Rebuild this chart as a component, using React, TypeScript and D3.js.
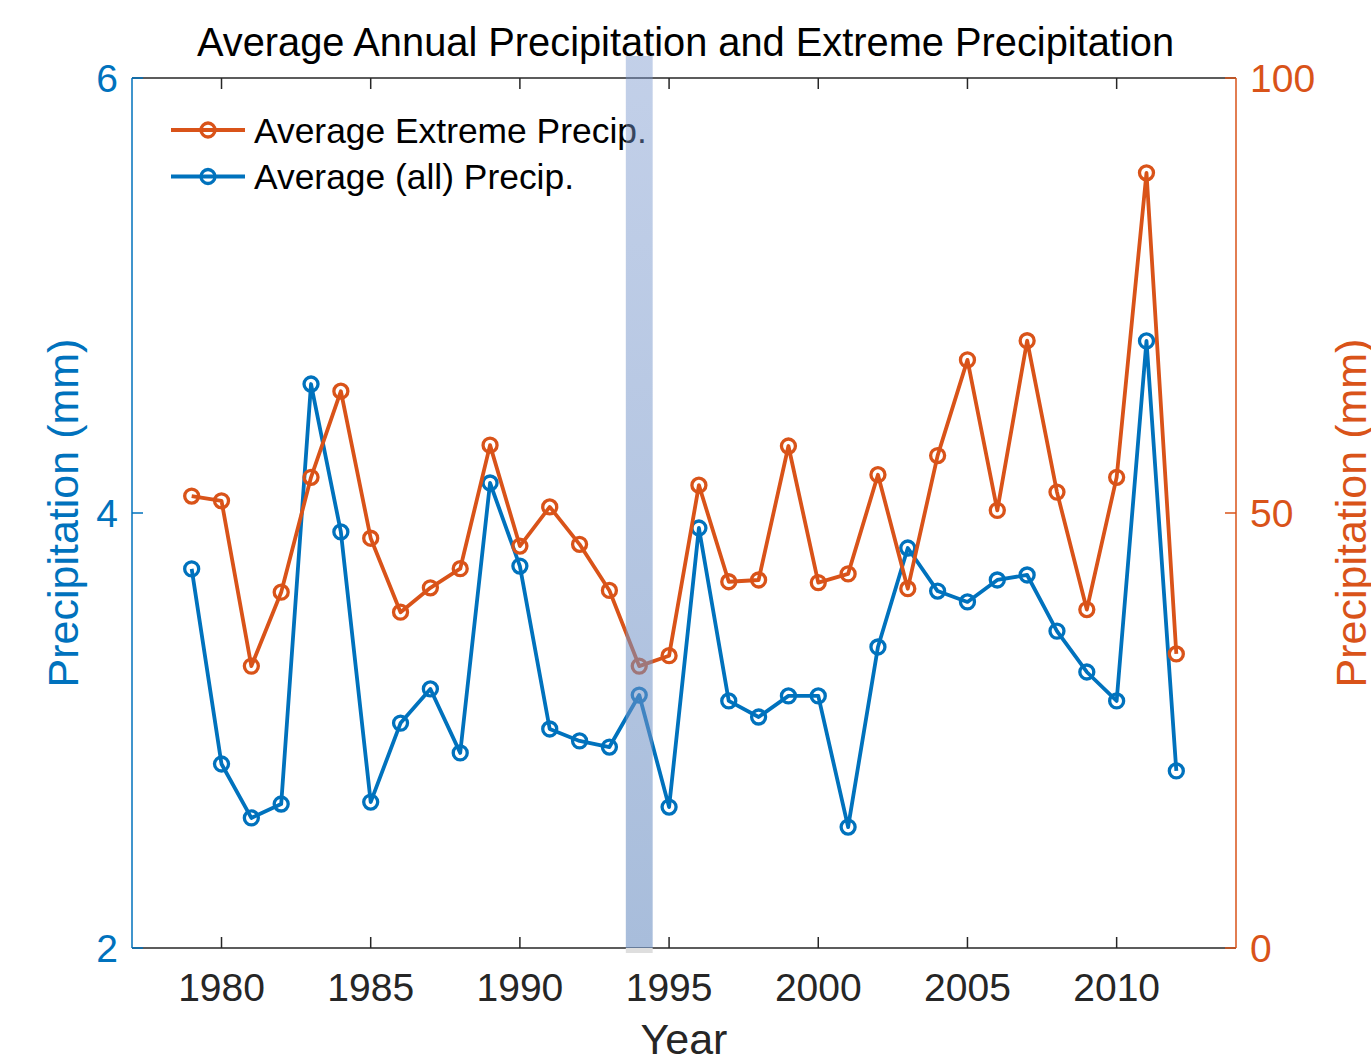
import React from "react";
import * as d3 from "d3";

const years: number[] = d3.range(1979, 2013);
const avgAll: number[] = [
  3.743, 2.846, 2.598, 2.662, 4.593, 3.913, 2.671, 3.034, 3.191, 2.897,
  4.138, 3.756, 3.007, 2.952, 2.924, 3.163, 2.648, 3.931, 3.136, 3.062,
  3.159, 3.159, 2.556, 3.384, 3.839, 3.641, 3.591, 3.692, 3.715, 3.457,
  3.269, 3.136, 4.791, 2.814,
];
const avgExtreme: number[] = [
  51.95, 51.4, 32.4, 40.9, 54.1, 64.0, 47.1, 38.6, 41.4, 43.6,
  57.8, 46.2, 50.7, 46.4, 41.1, 32.4, 33.6, 53.2, 42.1, 42.3,
  57.7, 42.0, 43.0, 54.4, 41.3, 56.6, 67.6, 50.3, 69.8, 52.4,
  38.9, 54.1, 89.1, 33.8,
];
const xTicks: number[] = [1980, 1985, 1990, 1995, 2000, 2005, 2010];
const yLeftTicks: number[] = [2, 4, 6];
const yRightTicks: number[] = [0, 50, 100];
const highlightYear = 1994;
const legendLabels: string[] = ["Average Extreme Precip.", "Average (all) Precip."];

const BLUE = "#0072BD";
const ORANGE = "#D95319";
const AX = "#262626";
const FONT = "'Liberation Sans', Arial, Helvetica, sans-serif";

export default function App() {
  const L = 132, R = 1236, T = 78, B = 948;
  const x = d3.scaleLinear().domain([1977, 2014]).range([L, R]);
  const yL = d3.scaleLinear().domain([2, 6]).range([B, T]);
  const yR = d3.scaleLinear().domain([0, 100]).range([B, T]);
  const tickLen = 11;
  const LW = 3.8;
  const MW = 3.3;
  const MR = 7;

  const lineL = d3.line<number>().x((_, i) => x(years[i])).y((d) => yL(d));
  const lineR = d3.line<number>().x((_, i) => x(years[i])).y((d) => yR(d));

  const bandX0 = x(highlightYear - 0.45);
  const bandX1 = x(highlightYear + 0.45);

  return (
    <svg
      width={1371}
      height={1060}
      style={{ position: "absolute", left: 0, top: 0, background: "#fff" }}
      fontFamily={FONT}
    >
      <defs>
        <linearGradient id="bandGrad" x1="0" y1="0" x2="0" y2="1">
          <stop offset="0" stopColor="rgb(120,150,205)" stopOpacity={0.45} />
          <stop offset="1" stopColor="rgb(110,145,195)" stopOpacity={0.6} />
        </linearGradient>
      </defs>
      <rect x={0} y={0} width={1371} height={1060} fill="#fff" />

      {/* title */}
      <text x={(L + R) / 2 + 1.5} y={56} textAnchor="middle" fontSize={39.8} fill="#000">
        Average Annual Precipitation and Extreme Precipitation
      </text>

      {/* axes box */}
      <line x1={L} x2={R} y1={B} y2={B} stroke={AX} strokeWidth={1.5} />
      <line x1={L} x2={R} y1={T} y2={T} stroke={AX} strokeWidth={1.5} />
      {xTicks.map((t) => (
        <g key={t}>
          <line x1={x(t)} x2={x(t)} y1={B} y2={B - tickLen} stroke={AX} strokeWidth={1.5} />
          <line x1={x(t)} x2={x(t)} y1={T} y2={T + tickLen} stroke={AX} strokeWidth={1.5} />
          <text x={x(t)} y={1001} textAnchor="middle" fontSize={39} fill={AX}>
            {t}
          </text>
        </g>
      ))}
      <text x={(L + R) / 2} y={1054} textAnchor="middle" fontSize={43} fill={AX}>
        Year
      </text>

      {/* left axis */}
      <line x1={L} x2={L} y1={T} y2={B} stroke={BLUE} strokeWidth={1.5} />
      {yLeftTicks.map((t) => (
        <g key={t}>
          <line x1={L} x2={L + tickLen} y1={yL(t)} y2={yL(t)} stroke={BLUE} strokeWidth={1.5} />
          <text x={118} y={yL(t)} dy="0.36em" textAnchor="end" fontSize={39} fill={BLUE}>
            {t}
          </text>
        </g>
      ))}
      <text
        transform={`translate(78,${(T + B) / 2}) rotate(-90)`}
        textAnchor="middle"
        fontSize={43}
        fill={BLUE}
      >
        Precipitation (mm)
      </text>

      {/* right axis */}
      <line x1={R} x2={R} y1={T} y2={B} stroke={ORANGE} strokeWidth={1.5} />
      {yRightTicks.map((t) => (
        <g key={t}>
          <line x1={R} x2={R - tickLen} y1={yR(t)} y2={yR(t)} stroke={ORANGE} strokeWidth={1.5} />
          <text x={1250} y={yR(t)} dy="0.36em" textAnchor="start" fontSize={39} fill={ORANGE}>
            {t}
          </text>
        </g>
      ))}
      <text
        transform={`translate(1366,${(T + B) / 2}) rotate(-90)`}
        textAnchor="middle"
        fontSize={43}
        fill={ORANGE}
      >
        Precipitation (mm)
      </text>

      {/* blue series (left) */}
      <path d={lineL(avgAll) || ""} fill="none" stroke={BLUE} strokeWidth={LW} strokeLinejoin="round" />
      {avgAll.map((v, i) => (
        <circle key={"b" + i} cx={x(years[i])} cy={yL(v)} r={MR} fill="none" stroke={BLUE} strokeWidth={MW} />
      ))}

      {/* orange series (right) */}
      <path d={lineR(avgExtreme) || ""} fill="none" stroke={ORANGE} strokeWidth={LW} strokeLinejoin="round" />
      {avgExtreme.map((v, i) => (
        <circle key={"o" + i} cx={x(years[i])} cy={yR(v)} r={MR} fill="none" stroke={ORANGE} strokeWidth={MW} />
      ))}

      {/* legend */}
      {[ORANGE, BLUE].map((c, i) => {
        const ly = 130 + i * 46.5;
        return (
          <g key={c}>
            <line x1={171} x2={245} y1={ly} y2={ly} stroke={c} strokeWidth={LW} />
            <circle cx={208} cy={ly} r={MR} fill="none" stroke={c} strokeWidth={MW} />
            <text x={254} y={ly} dy="0.36em" fontSize={35.4} fill="#000">
              {legendLabels[i]}
            </text>
          </g>
        );
      })}

      {/* highlight band */}
      <rect x={bandX0} y={56} width={bandX1 - bandX0} height={B - 56} fill="url(#bandGrad)" />
      <rect x={bandX0} y={B} width={bandX1 - bandX0} height={5} fill="rgb(222,222,222)" />
    </svg>
  );
}
